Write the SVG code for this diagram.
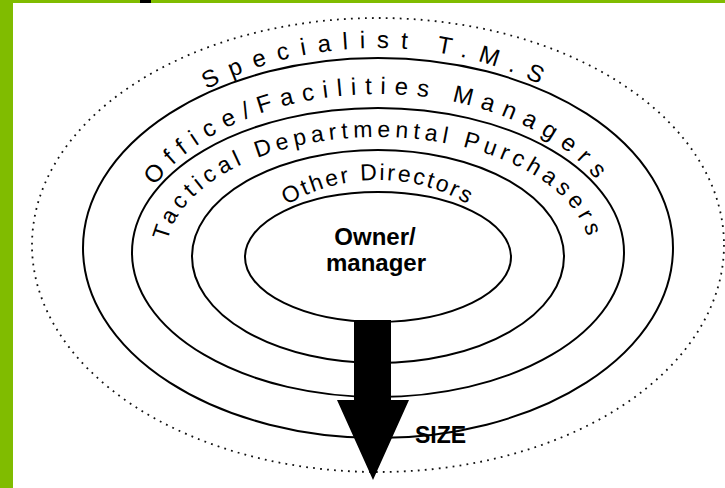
<svg xmlns="http://www.w3.org/2000/svg" width="725" height="488" viewBox="0 0 725 488">
<style>
.ring{fill:none;stroke:#000;stroke-width:2}
.dot{fill:none;stroke:#111;stroke-width:1.8;stroke-dasharray:1.8 5.2}
.lbl{font-family:"Liberation Sans",Arial,sans-serif;fill:#000}
.bold{font-family:"Liberation Sans",Arial,sans-serif;font-weight:bold;fill:#000}
</style>
<defs>
<path id="pSpec" d="M 102.7 308.6 A 285 207 0 1 1 653.3 308.6"/>
<path id="pOff" d="M 139.4 296.7 A 247 161 0 1 1 616.6 296.7"/>
<path id="pTac" d="M 173.2 285.5 A 212 118 0 1 1 582.8 285.5"/>
<path id="pOD" d="M 200 358 A 178 178 0 0 1 556 358"/>
</defs>
<rect width="725" height="488" fill="#fff"/>
<g id="border">
<rect x="0" y="0" width="13" height="488" fill="#80bc00"/>
<rect x="0" y="0" width="725" height="3" fill="#80bc00"/>
<rect x="140" y="0" width="11" height="3" fill="#000"/>
</g>
<g id="ring-specialist">
<ellipse class="dot" cx="378" cy="245" rx="346" ry="227"/>
<text class="lbl" font-size="24" letter-spacing="11.6"><textPath href="#pSpec" startOffset="50%" text-anchor="middle">Specialist T.M.S</textPath></text>
</g>
<g id="ring-office">
<ellipse class="ring" cx="378" cy="248" rx="295" ry="190"/>
<text class="lbl" font-size="24" letter-spacing="8.6"><textPath href="#pOff" startOffset="50%" text-anchor="middle">Office/Facilities Managers</textPath></text>
</g>
<g id="ring-tactical">
<ellipse class="ring" cx="378" cy="252.5" rx="246" ry="144.5"/>
<text class="lbl" font-size="23" letter-spacing="4.9"><textPath href="#pTac" startOffset="50%" text-anchor="middle">Tactical Departmental Purchasers</textPath></text>
</g>
<g id="ring-directors">
<ellipse class="ring" cx="378" cy="256.5" rx="186" ry="106.5"/>
<text class="lbl" font-size="23" letter-spacing="2.4"><textPath href="#pOD" startOffset="50%" text-anchor="middle">Other Directors</textPath></text>
</g>
<g id="owner">
<ellipse class="ring" cx="378" cy="257" rx="133" ry="65"/>
<text class="bold" font-size="24" x="375" y="245" text-anchor="middle">Owner/</text>
<text class="bold" font-size="24" x="376" y="271" text-anchor="middle">manager</text>
</g>
<g id="connectors">
<path d="M 354 320 L 391 320 L 391 400 L 409 400 L 373 480 L 337 400 L 354 400 Z" fill="#000"/>
</g>
<g id="size-label">
<text class="bold" font-size="23" x="415" y="443">SIZE</text>
</g>
</svg>
